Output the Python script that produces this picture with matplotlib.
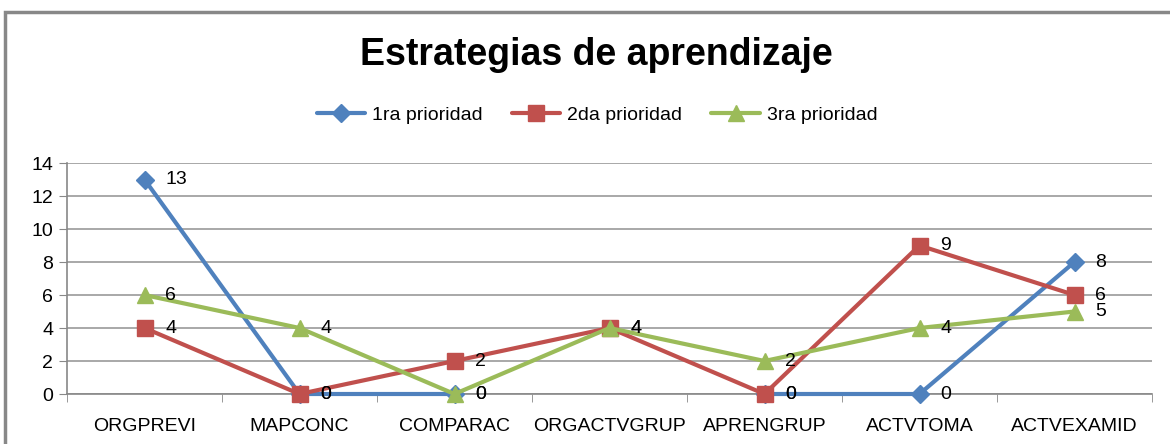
import numpy as np
import matplotlib
matplotlib.use("Agg")
import matplotlib.pyplot as plt
from matplotlib.patches import Rectangle

plt.rcParams['font.family'] = ['Liberation Sans', 'DejaVu Sans']

categorias = ['ORGPREVI', 'MAPCONC', 'COMPARAC', 'ORGACTVGRUP', 'APRENGRUP', 'ACTVTOMA', 'ACTVEXAMID']
prioridad1 = [13, 0, 0, np.nan, 0, 0, 8]
prioridad2 = [4, 0, 2, 4, 0, 9, 6]
prioridad3 = [6, 4, 0, 4, 2, 4, 5]
series = [
    ('1ra prioridad', prioridad1, '#4F81BD', 'D', 9),
    ('2da prioridad', prioridad2, '#C0504D', 's', 11),
    ('3ra prioridad', prioridad3, '#9BBB59', '^', 11),
]

fig = plt.figure(figsize=(11.7, 4.44), dpi=100)
ax = fig.add_axes([67/1170, 1 - 394/444, (1152 - 67)/1170, (394 - 163)/444])

x = np.arange(len(categorias))
for nombre, vals, color, mk, ms in series:
    ax.plot(x, vals, color=color, lw=3, marker=mk, ms=ms, label=nombre,
            solid_capstyle='round', clip_on=False, zorder=3)
    for xi, v in zip(x, vals):
        if np.isnan(v):
            continue
        ax.annotate(f'{int(v)}', (xi, v), xytext=(15, 0), textcoords='offset points',
                    ha='left', va='center', fontsize=14, zorder=4)

ax.set_xlim(-0.5, len(categorias) - 0.5)
ax.set_ylim(0, 14)
ax.set_yticks(range(0, 15, 2))
ax.set_xticks(x)
ax.set_xticklabels(categorias, fontsize=14)
ax.tick_params(axis='x', which='major', length=0, pad=17)
ax.set_xticks(np.arange(-0.5, len(categorias), 1), minor=True)
ax.tick_params(axis='x', which='minor', length=6, color='#888888', direction='out')
ax.tick_params(axis='y', labelsize=14, length=6, color='#888888', pad=4)
ax.grid(axis='y', color='#999999', lw=1.2)
ax.set_axisbelow(True)
for s in ['top', 'right']:
    ax.spines[s].set_visible(False)
for s in ['left', 'bottom']:
    ax.spines[s].set_color('#888888')
    ax.spines[s].set_linewidth(1.2)

fig.text(596/1170, 1 - 55/444, 'Estrategias de aprendizaje', ha='center', va='center',
         fontsize=27, fontweight='bold')
fig.legend(loc='center', bbox_to_anchor=(597/1170, 1 - 115/444), ncol=3, frameon=False,
           fontsize=14, handlelength=2.5, columnspacing=1.5, handletextpad=0.35)

fig.patches.append(Rectangle((5/1170, -0.2), 1.2, 1.2 - 12/444, transform=fig.transFigure,
                             fill=False, edgecolor='#888888', lw=2.5))

fig.savefig('out.png', dpi=100)
